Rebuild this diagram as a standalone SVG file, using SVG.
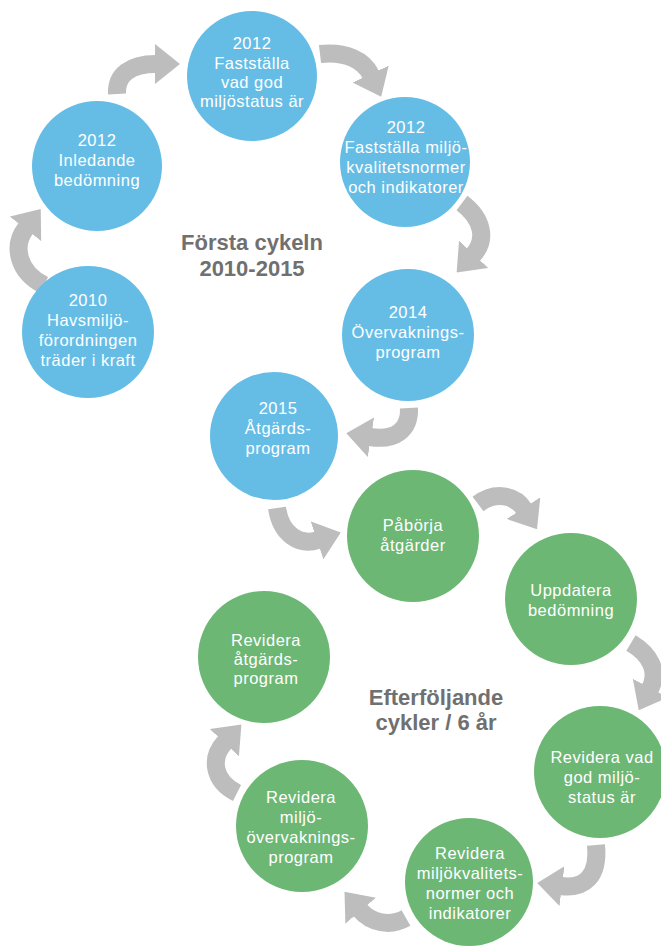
<svg xmlns="http://www.w3.org/2000/svg" width="661" height="946" viewBox="0 0 661 946">
<style>
.blue{fill:#65bde6}
.green{fill:#6db775}
.lbl{font-family:"Liberation Sans",Arial,sans-serif;font-size:16.5px;fill:#ffffff;text-anchor:middle;letter-spacing:0.5px}
.title{font-family:"Liberation Sans",Arial,sans-serif;font-size:22px;font-weight:bold;fill:#707070;text-anchor:middle}
.arr{fill:none;stroke:#bdbdbd;stroke-width:18;marker-end:url(#head)}
</style>
<defs>
<marker id="head" markerUnits="userSpaceOnUse" markerWidth="25" markerHeight="40" viewBox="0 0 25 40" refX="1" refY="20" orient="auto">
<path d="M0,0 L25,20 L0,40 Z" fill="#bdbdbd"/>
</marker>
</defs>
<rect width="661" height="946" fill="#ffffff"/>
<g id="connectors">
<path class="arr" d="M44 285 C18 272 12 246 26 228"/>
<path class="arr" d="M117 94 C116 75 130 64 156 64"/>
<path class="arr" d="M320 54 C345 51 364 60 371 75"/>
<path class="arr" d="M462 203 C483 219 487 240 473 255"/>
<path class="arr" d="M409 408 C410 430 395 441 370 437"/>
<path class="arr" d="M277 508 C281 535 300 546 318 540"/>
<path class="arr" d="M478 504 C495 491 515 495 524 509"/>
<path class="arr" d="M631 643 C651 655 659 672 650 689"/>
<path class="arr" d="M596 845 C599 876 585 889 561 886"/>
<path class="arr" d="M406 918 C390 927 371 923 360 910"/>
<path class="arr" d="M237 793 C213 781 210 758 225 742"/>
</g>
<g id="title1">
<text class="title" x="252" y="250">Första cykeln</text>
<text class="title" x="252" y="276">2010-2015</text>
</g>
<g id="title2">
<text class="title" x="436" y="705">Efterföljande</text>
<text class="title" x="436" y="730">cykler / 6 år</text>
</g>
<g id="n2010">
<circle class="blue" cx="88" cy="332" r="66"/>
<text class="lbl" x="88" y="306">2010</text>
<text class="lbl" x="88" y="326">Havsmiljö-</text>
<text class="lbl" x="88" y="346">förordningen</text>
<text class="lbl" x="88" y="366">träder i kraft</text>
</g>
<g id="n2012a">
<circle class="blue" cx="97" cy="166" r="65"/>
<text class="lbl" x="97" y="146">2012</text>
<text class="lbl" x="97" y="166">Inledande</text>
<text class="lbl" x="97" y="186">bedömning</text>
</g>
<g id="n2012b">
<circle class="blue" cx="252" cy="76" r="65"/>
<text class="lbl" x="252" y="49">2012</text>
<text class="lbl" x="252" y="69">Fastställa</text>
<text class="lbl" x="252" y="88">vad god</text>
<text class="lbl" x="252" y="107">miljöstatus är</text>
</g>
<g id="n2012c">
<circle class="blue" cx="405" cy="162" r="65"/>
<text class="lbl" x="406" y="133">2012</text>
<text class="lbl" x="406" y="153">Fastställa miljö-</text>
<text class="lbl" x="406" y="173">kvalitetsnormer</text>
<text class="lbl" x="406" y="193">och indikatorer</text>
</g>
<g id="n2014">
<circle class="blue" cx="408" cy="335" r="66"/>
<text class="lbl" x="408" y="318">2014</text>
<text class="lbl" x="408" y="338">Övervaknings-</text>
<text class="lbl" x="408" y="358">program</text>
</g>
<g id="n2015">
<circle class="blue" cx="274" cy="436" r="64"/>
<text class="lbl" x="278" y="414">2015</text>
<text class="lbl" x="278" y="434">Åtgärds-</text>
<text class="lbl" x="278" y="454">program</text>
</g>
<g id="g1">
<circle class="green" cx="413" cy="536" r="66"/>
<text class="lbl" x="413" y="531">Påbörja</text>
<text class="lbl" x="413" y="551">åtgärder</text>
</g>
<g id="g2">
<circle class="green" cx="571" cy="599" r="66"/>
<text class="lbl" x="571" y="596">Uppdatera</text>
<text class="lbl" x="571" y="616">bedömning</text>
</g>
<g id="g3">
<circle class="green" cx="600" cy="772" r="66"/>
<text class="lbl" x="602" y="763">Revidera vad</text>
<text class="lbl" x="602" y="783">god miljö-</text>
<text class="lbl" x="602" y="803">status är</text>
</g>
<g id="g4">
<circle class="green" cx="469" cy="882" r="64"/>
<text class="lbl" x="470" y="859">Revidera</text>
<text class="lbl" x="470" y="879">miljökvalitets-</text>
<text class="lbl" x="470" y="899">normer och</text>
<text class="lbl" x="470" y="919">indikatorer</text>
</g>
<g id="g5">
<circle class="green" cx="302" cy="826" r="66"/>
<text class="lbl" x="301" y="803">Revidera</text>
<text class="lbl" x="301" y="823">miljö-</text>
<text class="lbl" x="301" y="843">övervaknings-</text>
<text class="lbl" x="301" y="863">program</text>
</g>
<g id="g6">
<circle class="green" cx="264" cy="657" r="66"/>
<text class="lbl" x="266" y="646">Revidera</text>
<text class="lbl" x="266" y="665">åtgärds-</text>
<text class="lbl" x="266" y="684">program</text>
</g>
</svg>
